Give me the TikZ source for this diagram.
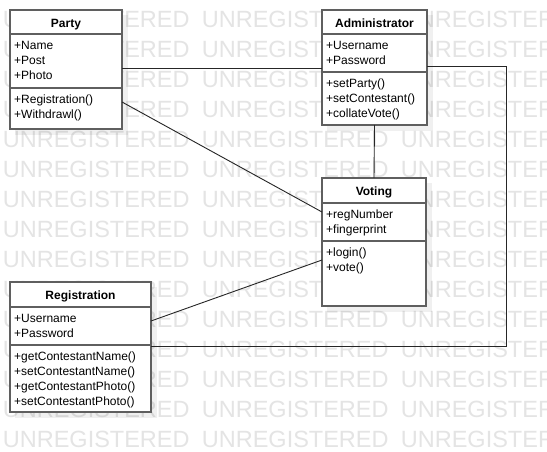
\documentclass[tikz,border=0pt]{standalone}
\usepackage{fontspec}
\setmainfont{Liberation Sans}
\definecolor{wm}{RGB}{228,228,228}
\definecolor{edge}{RGB}{95,95,95}
\begin{document}
\begin{tikzpicture}[x=1pt,y=-1pt,
  umlbox/.style={draw=edge, line width=1.2pt, fill=white, anchor=north west, inner sep=0pt, outer sep=0pt},
  divider/.style={draw=edge, line width=1.2pt},
  conn/.style={draw=black!85, line width=0.9pt},
  shadowfill/.style={fill=black, fill opacity=0.06},
  hdr/.style={font=\fontsize{12}{15}\selectfont\bfseries, anchor=base, inner sep=0pt},
  item/.style={font=\fontsize{12}{15}\selectfont, anchor=base west, inner sep=0pt},
  wmtext/.style={font=\fontsize{23.5}{24}\selectfont, text=wm, anchor=base west, inner sep=0pt}]
\useasboundingbox (0,0) rectangle (547,452);
\fill[white] (0,0) rectangle (547,452);
% watermark
\begin{scope}
\clip (0,0) rectangle (547,452);
\foreach \k in {0,...,14}{
  \foreach \j in {0,1,2}{
    \node[wmtext] (wm-\k-\j) at ({2.7+199*\j},{28+29.93*\k}) {UNREGISTERED};
  }
}
\end{scope}
% shadows
\fill[shadowfill] (15,15) rectangle (128,135);
\fill[shadowfill] (327,15) rectangle (433,131);
\fill[shadowfill] (327,183) rectangle (432,312);
\fill[shadowfill] (15,287) rectangle (157,418);
% boxes
\node[umlbox, minimum width=112pt, minimum height=119pt] (party) at (10,10) {};
\node[umlbox, minimum width=105pt, minimum height=115pt] (admin) at (322,10) {};
\node[umlbox, minimum width=104pt, minimum height=128pt] (voting) at (322,178) {};
\node[umlbox, minimum width=141pt, minimum height=130pt] (reg) at (10,282) {};
% dividers
\draw[divider] ([yshift=-24pt]party.north west) -- ([yshift=-24pt]party.north east);
\draw[divider] ([yshift=-78pt]party.north west) -- ([yshift=-78pt]party.north east);
\draw[divider] ([yshift=-24pt]admin.north west) -- ([yshift=-24pt]admin.north east);
\draw[divider] ([yshift=-62pt]admin.north west) -- ([yshift=-62pt]admin.north east);
\draw[divider] ([yshift=-25pt]voting.north west) -- ([yshift=-25pt]voting.north east);
\draw[divider] ([yshift=-63pt]voting.north west) -- ([yshift=-63pt]voting.north east);
\draw[divider] ([yshift=-25pt]reg.north west) -- ([yshift=-25pt]reg.north east);
\draw[divider] ([yshift=-63pt]reg.north west) -- ([yshift=-63pt]reg.north east);
% Party texts
\node[hdr] (party-h) at (66,27.5) {Party};
\node[item] (party-a1) at (14,49.5) {+Name};
\node[item] (party-a2) at (14,64.5) {+Post};
\node[item] (party-a3) at (14,79.5) {+Photo};
\node[item] (party-m1) at (14,103.5) {+Registration()};
\node[item] (party-m2) at (14,118.5) {+Withdrawl()};
% Administrator texts
\node[hdr] (admin-h) at (374.5,27.5) {Administrator};
\node[item] (admin-a1) at (326,49.5) {+Username};
\node[item] (admin-a2) at (326,64.5) {+Password};
\node[item] (admin-m1) at (326,87.5) {+setParty()};
\node[item] (admin-m2) at (326,102.5) {+setContestant()};
\node[item] (admin-m3) at (326,117.5) {+collateVote()};
% Voting texts
\node[hdr] (voting-h) at (374,195.5) {Voting};
\node[item] (voting-a1) at (326,218.5) {+regNumber};
\node[item] (voting-a2) at (326,233.5) {+fingerprint};
\node[item] (voting-m1) at (326,256.5) {+login()};
\node[item] (voting-m2) at (326,271.5) {+vote()};
% Registration texts
\node[hdr] (reg-h) at (80.5,299.5) {Registration};
\node[item] (reg-a1) at (14,322.5) {+Username};
\node[item] (reg-a2) at (14,337.5) {+Password};
\node[item] (reg-m1) at (14,360.5) {+getContestantName()};
\node[item] (reg-m2) at (14,375.5) {+setContestantName()};
\node[item] (reg-m3) at (14,390.5) {+getContestantPhoto()};
\node[item] (reg-m4) at (14,405.5) {+setContestantPhoto()};
% connectors
\coordinate (corner1) at (506,66);
\coordinate (corner2) at (506,346);
\draw[conn] ([yshift=-58pt]party.north east) -- ([yshift=-58pt]admin.north west);
\draw[conn] ([yshift=-92pt]party.north east) -- ([yshift=-34pt]voting.north west);
\draw[conn] (admin.south) -- (voting.north);
\draw[conn] ([yshift=-56pt]admin.north east) -- (corner1) -- (corner2) -- ([yshift=-64pt]reg.north east);
\draw[conn] ([yshift=-39pt]reg.north east) -- ([yshift=-82pt]voting.north west);
\end{tikzpicture}
\end{document}
